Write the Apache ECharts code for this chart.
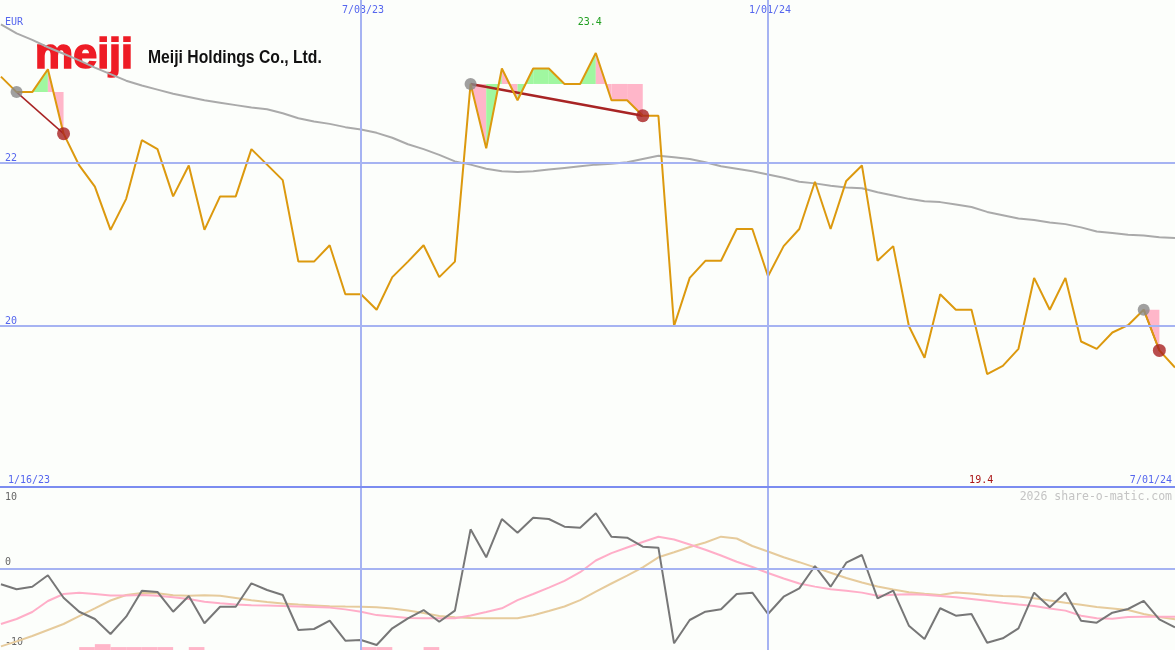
<!DOCTYPE html>
<html><head><meta charset="utf-8">
<script src="https://cdn.jsdelivr.net/npm/echarts@6/dist/echarts.min.js"></script>
<style>html,body{margin:0;padding:0;background:#fcfefb;}#c{width:1175px;height:650px;}</style>
</head><body><div id="c"></div>
<script>
// weeks are counted relative to the week of 7/03/23
const firstWeek = -23;
const price = [
  23.06, 22.87, 22.87, 23.15, 22.36, 21.97, 21.71, 21.18, 21.56, 22.28,
  22.17, 21.59, 21.97, 21.18, 21.59, 21.59, 22.17, 21.98, 21.79, 20.79,
  20.79, 20.99, 20.39, 20.39, 20.20, 20.60, 20.79, 20.99, 20.60, 20.79,
  22.97, 22.18, 23.16, 22.77, 23.16, 23.16, 22.97, 22.97, 23.35, 22.77,
  22.77, 22.58, 22.58, 20.00, 20.59, 20.80, 20.80, 21.19, 21.19, 20.61,
  20.98, 21.19, 21.77, 21.19, 21.78, 21.97, 20.80, 20.98, 20.00, 19.61,
  20.39, 20.20, 20.20, 19.41, 19.51, 19.72, 20.59, 20.20, 20.59, 19.81,
  19.72, 19.92, 20.01, 20.20, 19.70, 19.49
];
const longMA = [
  23.70, 23.59, 23.51, 23.42, 23.34, 23.26, 23.17, 23.09, 23.01, 22.95,
  22.90, 22.85, 22.81, 22.77, 22.74, 22.71, 22.68, 22.66, 22.61, 22.55,
  22.51, 22.48, 22.44, 22.41, 22.37, 22.31, 22.23, 22.17, 22.10, 22.02,
  21.98, 21.93, 21.90, 21.89, 21.90, 21.92, 21.94, 21.96, 21.98, 21.99,
  22.01, 22.05, 22.09, 22.07, 22.05, 22.01, 21.96, 21.93, 21.90, 21.86,
  21.82, 21.77, 21.75, 21.72, 21.70, 21.69, 21.64, 21.60, 21.56, 21.53,
  21.52, 21.49, 21.46, 21.40, 21.36, 21.32, 21.30, 21.27, 21.25, 21.21,
  21.16, 21.14, 21.12, 21.11, 21.09, 21.08
];
const oscillator = [
  -2.42, -3.19, -2.79, -1.04, -4.48, -6.63, -7.75, -10.05, -7.39, -3.40,
  -3.60, -6.63, -4.22, -8.40, -5.86, -5.86, -2.27, -3.30, -4.06, -9.43,
  -9.28, -8.01, -11.07, -10.97, -11.73, -9.17, -7.64, -6.37, -8.16, -6.47,
  6.01, 1.72, 7.59, 5.49, 7.79, 7.59, 6.41, 6.26, 8.47, 4.88,
  4.72, 3.34, 3.19, -11.47, -7.90, -6.63, -6.26, -3.91, -3.71, -6.98,
  -4.33, -3.04, 0.38, -2.79, 0.89, 2.07, -4.57, -3.40, -8.77, -10.81,
  -6.10, -7.24, -6.98, -11.38, -10.71, -9.17, -3.71, -5.95, -3.71, -8.01,
  -8.31, -6.78, -6.21, -4.98, -7.79, -9.02
];
const oscFast = [
  -8.51, -7.75, -6.67, -4.98, -3.91, -3.73, -3.91, -4.14, -4.16, -4.06,
  -4.19, -4.42, -4.68, -5.09, -5.34, -5.52, -5.63, -5.67, -5.74, -5.81,
  -5.89, -6.00, -6.27, -6.64, -7.15, -7.36, -7.58, -7.64, -7.64, -7.64,
  -7.21, -6.67, -6.10, -4.86, -3.91, -2.93, -1.90, -0.57, 1.23, 2.36,
  3.22, 4.06, 4.86, 4.45, 3.68, 2.88, 1.99, 1.03, 0.23, -0.69,
  -1.53, -2.30, -2.78, -3.17, -3.40, -3.70, -4.19, -4.02, -3.96, -4.02,
  -4.20, -4.42, -4.66, -4.94, -5.25, -5.52, -5.75, -6.13, -6.46, -7.25,
  -7.64, -7.71, -7.44, -7.39, -7.39, -7.39
];
const oscSlow = [
  -11.95, -11.18, -10.35, -9.43, -8.51, -7.29, -6.13, -4.91, -4.06, -3.76,
  -3.80, -4.10, -4.19, -4.11, -4.19, -4.52, -4.88, -5.14, -5.38, -5.54,
  -5.66, -5.78, -5.83, -5.86, -5.94, -6.12, -6.43, -6.83, -7.29, -7.48,
  -7.59, -7.64, -7.64, -7.64, -7.18, -6.52, -5.83, -4.85, -3.54, -2.30,
  -1.09, 0.18, 1.72, 2.50, 3.30, 3.99, 4.88, 4.60, 3.45, 2.61,
  1.72, 0.97, 0.17, -0.66, -1.46, -2.16, -2.76, -3.22, -3.63, -3.88,
  -4.06, -3.68, -3.83, -4.06, -4.22, -4.31, -4.57, -4.91, -5.25, -5.57,
  -5.89, -6.12, -6.37, -6.98, -7.44, -7.79
];
const signalStart = [-22, 7, 50];
const signalEnd = [-19, 18, 51];
const lowBarWeeks = [-18, -17, -16, -15, -14, -13, -11, 0, 1, 4];
const lowBarTops = [-12.05, -11.6, -12.05, -12.05, -12.05, -12.05, -12.05, -12.05, -12.05, -12.05];
const dateTickWeeks = [0, 26];
const dateTickLabels = ['7/03/23', '1/01/24'];
const rangeLabels = ['1/16/23', '7/01/24'];
const priceTicks = [22, 20];
const oscTicks = [10, 0, -10];
const highLabel = '23.4';
const lowLabel = '19.4';
const currency = 'EUR';
const companyName = 'Meiji Holdings Co., Ltd.';
const logoWord = 'meiji';
const credit = '2026 share-o-matic.com';

const pairs = arr => arr.map((v, i) => [firstWeek + i, v]);
const at = k => price[k - firstWeek];

const fillData = [];
signalStart.forEach((s, j) => {
  const lv = at(s);
  for (let k = s; k < signalEnd[j]; k++) fillData.push([k, at(k), k + 1, at(k + 1), lv]);
});
const trendSeries = signalStart.map((s, j) => ({
  type: 'line', xAxisIndex: 0, yAxisIndex: 0, data: [[s, at(s)], [signalEnd[j], at(signalEnd[j])]],
  showSymbol: false, silent: true, z: 3.5,
  lineStyle: { color: '#a82424', width: j === 1 ? 2.5 : 1.5 }
}));

const gridColor = '#a6b3f2';
const mlBase = { silent: true, symbol: ['none', 'none'], label: { show: false }, animation: false };

const option = {
  backgroundColor: '#fcfefb',
  animation: false,
  grid: [
    { left: 0, right: 0, top: -3, height: 492 },
    { left: 0, right: 0, top: 487, height: 163 }
  ],
  xAxis: [
    { type: 'value', gridIndex: 0, min: -23.06, max: 52, show: false },
    { type: 'value', gridIndex: 1, min: -23.06, max: 52, show: false }
  ],
  yAxis: [
    { type: 'value', gridIndex: 0, min: 18, max: 24, show: false },
    { type: 'value', gridIndex: 1, min: -12.5, max: 12.5, show: false }
  ],
  series: [
    { type: 'line', xAxisIndex: 0, yAxisIndex: 0, data: pairs(longMA), showSymbol: false, silent: true, z: 1,
      lineStyle: { opacity: 0 },
      markLine: Object.assign({}, mlBase, { lineStyle: { color: gridColor, width: 2, type: 'solid' },
        data: priceTicks.map(v => ({ yAxis: v })).concat(dateTickWeeks.map(k => ({ xAxis: k }))) }) },
    { type: 'line', xAxisIndex: 1, yAxisIndex: 1, data: pairs(oscillator), showSymbol: false, silent: true, z: 1,
      lineStyle: { opacity: 0 },
      markLine: Object.assign({}, mlBase, { lineStyle: { color: gridColor, width: 2, type: 'solid' },
        data: [{ yAxis: 0 }].concat(dateTickWeeks.map(k => ({ xAxis: k }))) }) },
    { type: 'line', xAxisIndex: 1, yAxisIndex: 1, data: [], showSymbol: false, silent: true, z: 7,
      markLine: Object.assign({}, mlBase, { lineStyle: { color: '#7b8cf0', width: 2, type: 'solid' },
        data: [{ yAxis: 12.5 }] }) },
    { type: 'custom', xAxisIndex: 0, yAxisIndex: 0, data: fillData, silent: true, z: 2,
      encode: { x: [0, 2], y: [1, 3, 4] },
      renderItem: (params, api) => {
        const k0 = api.value(0), v0 = api.value(1), k1 = api.value(2), v1 = api.value(3), lv = api.value(4);
        return { type: 'polygon', shape: { points: [api.coord([k0, lv]), api.coord([k0, v0]), api.coord([k1, v1]), api.coord([k1, lv])] },
          style: { fill: v1 >= lv ? '#a0f7a0' : '#ffb6c9' } };
      } },
    { type: 'line', xAxisIndex: 0, yAxisIndex: 0, data: pairs(longMA), showSymbol: false, silent: true, z: 3,
      lineStyle: { color: '#aaaaaa', width: 2 } },
    ...trendSeries,
    { type: 'line', xAxisIndex: 0, yAxisIndex: 0, data: pairs(price), showSymbol: false, silent: true, z: 4,
      lineStyle: { color: '#dc990e', width: 2 } },
    { type: 'scatter', xAxisIndex: 0, yAxisIndex: 0, data: signalStart.map(s => [s, at(s)]), symbolSize: 12, z: 8, silent: true,
      itemStyle: { color: '#888888' } },
    { type: 'scatter', xAxisIndex: 0, yAxisIndex: 0, data: signalEnd.map(s => [s, at(s)]), symbolSize: 13, z: 8, silent: true,
      itemStyle: { color: '#a82020' } },
    { type: 'custom', xAxisIndex: 1, yAxisIndex: 1, data: lowBarWeeks.map((k, i) => [k, lowBarTops[i]]), silent: true, z: 2,
      renderItem: (params, api) => {
        const p0 = api.coord([api.value(0), api.value(1)]);
        const p1 = api.coord([api.value(0) + 1, -12.5]);
        return { type: 'rect', shape: { x: p0[0], y: p0[1], width: p1[0] - p0[0], height: p1[1] - p0[1] }, style: { fill: '#ffb6c9' } };
      } },
    { type: 'line', xAxisIndex: 1, yAxisIndex: 1, data: pairs(oscSlow), showSymbol: false, silent: true, z: 3,
      lineStyle: { color: '#e6cb9c', width: 2 } },
    { type: 'line', xAxisIndex: 1, yAxisIndex: 1, data: pairs(oscFast), showSymbol: false, silent: true, z: 3,
      lineStyle: { color: '#ffaec8', width: 2 } },
    { type: 'line', xAxisIndex: 1, yAxisIndex: 1, data: pairs(oscillator), showSymbol: false, silent: true, z: 4,
      lineStyle: { color: '#777777', width: 2 } }
  ]
};

const chart = echarts.init(document.getElementById('c'));
chart.setOption(option);

const px = k => chart.convertToPixel({ xAxisIndex: 0 }, k);
const py = v => chart.convertToPixel({ yAxisIndex: 0 }, v);
const py2 = v => chart.convertToPixel({ yAxisIndex: 1 }, v);
const blue = '#5566ee';
const mono = '10px "DejaVu Sans Mono"';
const g = [];
function txt(x, y, text, color, align, font, extra, styleExtra) {
  g.push(Object.assign({ type: 'text', x: x, y: y, silent: true,
    style: Object.assign({ text: text, fill: color, font: font || mono, textAlign: align || 'left', textVerticalAlign: 'middle' }, styleExtra || {}) }, extra || {}));
}
txt(35, 56, logoWord, '#ee1c25', 'left', 'bold 43px "Liberation Sans"', null, { stroke: '#ee1c25', lineWidth: 1.6 });
txt(148, 57.5, companyName, '#111111', 'left', 'bold 18.5px "Liberation Sans"', { scaleX: 0.85 });
txt(5, 22, currency, blue);
priceTicks.forEach(v => txt(5, py(v) - 5, String(v), blue));
dateTickWeeks.forEach((k, i) => txt(px(k) + 2, 10, dateTickLabels[i], blue, 'center'));
txt(8, 480, rangeLabels[0], blue);
txt(1172, 480, rangeLabels[1], blue, 'right');
const iMax = price.indexOf(Math.max(...price)), iMin = price.indexOf(Math.min(...price));
txt(px(firstWeek + iMax) - 6, 22, highLabel, '#22a022', 'center');
txt(px(firstWeek + iMin) - 6, 480, lowLabel, '#aa1515', 'center');
txt(1172, 497, credit, '#c4c4c4', 'right', '11.5px "DejaVu Sans Mono"');
oscTicks.forEach(v => txt(5, v < 0 ? 642 : py2(v) - 6, String(v), '#666666'));
chart.setOption({ graphic: { elements: g } });
</script>
</body></html>
